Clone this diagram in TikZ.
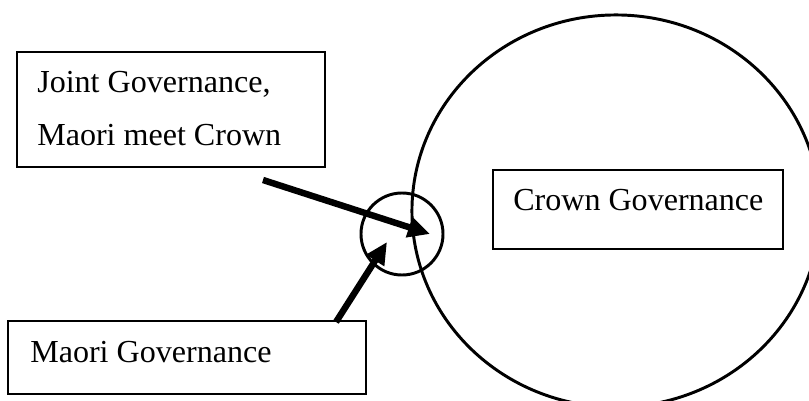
\documentclass[tikz,border=0pt]{standalone}
\usepackage{fontspec}
\setmainfont{Liberation Serif}
\usepackage{tikz}
\usetikzlibrary{calc,arrows.meta,shapes.geometric}

\begin{document}
\begin{tikzpicture}[x=0.025cm,y=-0.025cm,
    govbox/.style={draw,line width=1.2pt,inner sep=0pt},
    govtext/.style={anchor=base west,inner sep=0pt,font=\fontsize{22.8}{27}\selectfont},
    ring/.style={draw,line width=2.1pt,inner sep=0pt},
    pointer/.style={line width=4.6pt,-{Triangle[length=0.55cm,width=0.5cm]}}]
\useasboundingbox (0,0) rectangle (809,401);
\node[ring,ellipse,minimum width=10.2cm,minimum height=9.8cm](crownarea)at(616,211){};
\node[ring,circle,minimum size=2.05cm](meet)at(402,234){};
\node[govbox,minimum width=7.7cm,minimum height=2.875cm](joint)at(171,109.5){};
\node[govbox,minimum width=7.25cm,minimum height=1.975cm](crown)at(638,209.5){};
\node[govbox,minimum width=8.95cm,minimum height=1.825cm](maori)at(187,357.5){};
\node[govtext](jointa)at(37,92){Joint Governance,};
\node[govtext](jointb)at(37,145){Maori meet Crown};
\node[govtext](crowntxt)at(513,210){Crown Governance};
\node[govtext](maoritxt)at(30,362){Maori Governance};
\coordinate(jtail)at(263,180);
\coordinate(jtip)at(430,234);
\coordinate(mtail)at(336,322);
\coordinate(mtip)at(387,242);
\draw[pointer](jtail)--(jtip);
\draw[pointer](mtail)--(mtip);
\end{tikzpicture}
\end{document}
